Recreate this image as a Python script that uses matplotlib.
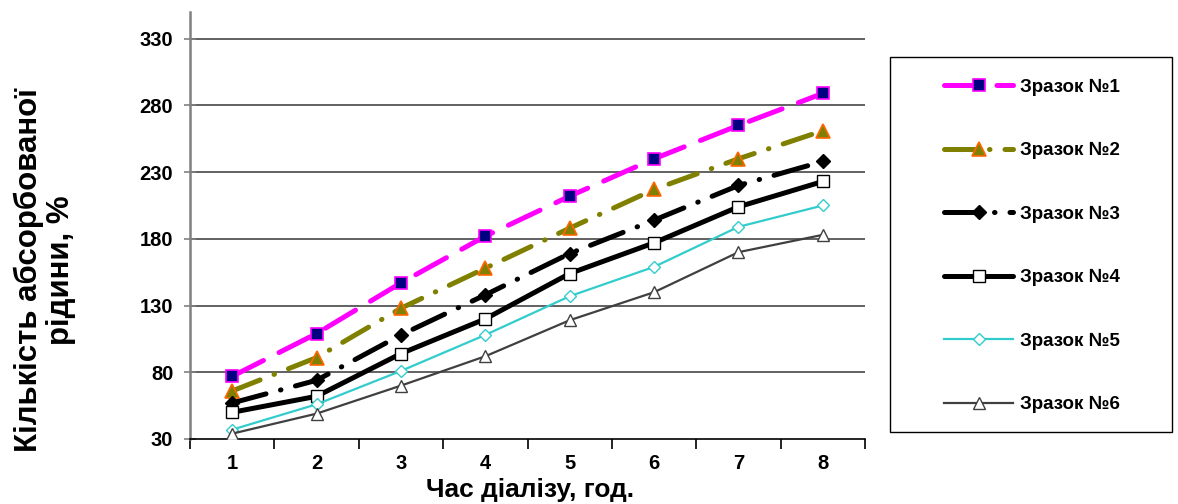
import matplotlib
matplotlib.use('Agg')
import matplotlib.pyplot as plt
from matplotlib.patches import Rectangle

plt.rcParams['font.family'] = ['Liberation Sans', 'DejaVu Sans']
plt.rcParams['font.weight'] = 'bold'

# data
hours = [1, 2, 3, 4, 5, 6, 7, 8]
labels = ['Зразок №1', 'Зразок №2', 'Зразок №3', 'Зразок №4', 'Зразок №5', 'Зразок №6']
s1 = [77, 109, 147, 182, 212, 240, 265, 289]
s2 = [66, 91, 128, 158, 188, 217, 240, 261]
s3 = [57, 74, 108, 138, 169, 194, 220, 238]
s4 = [50, 62, 94, 120, 154, 177, 204, 223]
s5 = [37, 56, 81, 108, 137, 159, 189, 205]
s6 = [34, 49, 70, 92, 119, 140, 170, 183]
yticks = [30, 80, 130, 180, 230, 280, 330]

fig = plt.figure(figsize=(11.78, 5.04), dpi=100)
ax = fig.add_axes([190 / 1178, 65 / 504, 675 / 1178, 427 / 504])

# horizontal grid lines
for v in yticks[1:]:
    ax.axhline(v, color='#555555', lw=1.3, zorder=1)

# Зразок №1 - magenta long dash, navy squares
ax.plot(hours, s1, color='#FF00FF', lw=3.6, dashes=(7, 3.5), dash_capstyle='round',
        marker='s', markersize=9, markerfacecolor='#000080', markeredgecolor='#FF00FF',
        markeredgewidth=1.2, label=labels[0], zorder=5)
# Зразок №2 - olive dash-dot, triangles
ax.plot(hours, s2, color='#808000', lw=3.6, dashes=(6, 3, 0.1, 3), dash_capstyle='round',
        marker='^', markersize=10, markerfacecolor='#808000', markeredgecolor='#FF6600',
        markeredgewidth=1.2, label=labels[1], zorder=5)
# Зразок №3 - black dash-dot, diamonds
ax.plot(hours, s3, color='black', lw=3.6, dashes=(7, 3, 0.1, 3), dash_capstyle='round',
        marker='D', markersize=7, markerfacecolor='black', markeredgecolor='black',
        label=labels[2], zorder=5)
# Зразок №4 - black solid, open squares
ax.plot(hours, s4, color='black', lw=3.6, solid_capstyle='round',
        marker='s', markersize=9, markerfacecolor='white', markeredgecolor='black',
        markeredgewidth=1.0, label=labels[3], zorder=5)
# Зразок №5 - cyan thin, open diamonds
ax.plot(hours, s5, color='#33CCCC', lw=1.6,
        marker='D', markersize=6, markerfacecolor='white', markeredgecolor='#33CCCC',
        markeredgewidth=1.0, label=labels[4], zorder=5)
# Зразок №6 - dark grey thin, open triangles
ax.plot(hours, s6, color='#404040', lw=1.6,
        marker='^', markersize=8, markerfacecolor='white', markeredgecolor='#404040',
        markeredgewidth=1.0, label=labels[5], zorder=5)

ax.set_xlim(0.5, 8.5)
ax.set_ylim(30, 350)
ax.set_yticks(yticks)
ax.set_yticklabels([str(v) for v in yticks], fontsize=14.5, fontweight='bold')
ax.tick_params(axis='y', direction='inout', length=8, width=1.2, color='#808080', pad=8)

# category ticks between groups, labels at centres
ax.set_xticks([h - 0.5 for h in hours] + [8.5])
ax.set_xticklabels([])
ax.set_xticks(hours, minor=True)
ax.set_xticklabels([str(h) for h in hours], minor=True, fontsize=14.5, fontweight='bold')
ax.tick_params(axis='x', which='major', direction='out', length=7, width=1.2, color='black')
ax.tick_params(axis='x', which='minor', length=0, pad=11)

for side in ['top', 'right']:
    ax.spines[side].set_visible(False)
ax.spines['left'].set_color('#808080')
ax.spines['left'].set_linewidth(1.8)
ax.spines['bottom'].set_color('black')
ax.spines['bottom'].set_linewidth(1.2)

fig.text(530 / 1178, 1 - 490 / 504, 'Час діалізу, год.', fontsize=19, fontweight='bold',
         ha='center', va='center')
fig.text(45 / 1178, 1 - 270 / 504, 'Кількість абсорбованої\nрідини, %', fontsize=22.5,
         fontweight='bold', rotation=90, ha='center', va='center', linespacing=1.1)

# legend box drawn separately so its size matches the reference
fig.patches.append(Rectangle((890 / 1178, 72 / 504), 282 / 1178, 375 / 504,
                             transform=fig.transFigure, fill=False,
                             edgecolor='black', lw=1.0))
leg = fig.legend(loc='center', bbox_to_anchor=(1032 / 1178, 1 - 246 / 504),
                 bbox_transform=fig.transFigure, frameon=False,
                 prop={'size': 13.5, 'weight': 'bold'}, handlelength=3.68,
                 labelspacing=2.47, borderpad=0, handletextpad=0.37)

fig.savefig('out.png', dpi=100)
